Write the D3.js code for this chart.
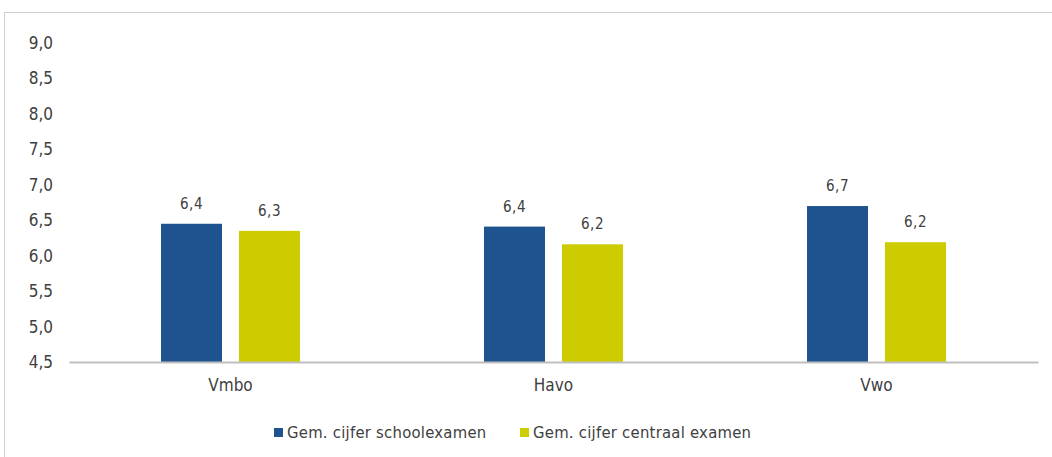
<!DOCTYPE html>
<html><head><meta charset="utf-8">
<script src="https://cdn.jsdelivr.net/npm/d3@7"></script>
<style>body{margin:0;background:#fff;} svg{display:block;}</style>
</head><body>
<svg id="c" width="1052" height="457"></svg>
<script>
const categories = ["Vmbo", "Havo", "Vwo"];
const seriesNames = ["Gem. cijfer schoolexamen", "Gem. cijfer centraal examen"];
const schoolexamen = [6.45, 6.41, 6.70];
const centraalExamen = [6.35, 6.16, 6.19];
const schoolLabels = ["6,4", "6,4", "6,7"];
const centraalLabels = ["6,3", "6,2", "6,2"];
const yTicks = [4.5, 5.0, 5.5, 6.0, 6.5, 7.0, 7.5, 8.0, 8.5, 9.0];
const colors = ["#1f538f", "#cccc00"];

const svg = d3.select("#c");
const font = "'DejaVu Sans Condensed', 'DejaVu Sans', sans-serif";
const textColor = "#404040";

// outer frame
svg.append("rect").attr("x", 4.5).attr("y", 12.5).attr("width", 1060).attr("height", 460)
  .attr("fill", "none").attr("stroke", "#d0d0d0").attr("stroke-width", 1);

const x0 = d3.scaleBand().domain(categories).range([69, 1038]);
const x1 = d3.scaleBand().domain([0, 1]).range([0, 139]).paddingInner(0.218);
const y = d3.scaleLinear().domain([4.5, 9.0]).range([362, 43]);

// y axis labels
const yAxis = d3.axisLeft(y).tickValues(yTicks).tickSize(0).tickPadding(0)
  .tickFormat(d => d3.format(".1f")(d).replace(".", ","));
const gy = svg.append("g").attr("transform", "translate(53,0)").call(yAxis);
gy.select(".domain").remove();
gy.selectAll("text").attr("font-family", font).attr("font-size", 17).attr("fill", textColor);

const data = categories.map((c, i) => ({c, vals: [
  {s: 0, v: schoolexamen[i], l: schoolLabels[i]},
  {s: 1, v: centraalExamen[i], l: centraalLabels[i]}]}));

const groups = svg.append("g").selectAll("g").data(data).join("g")
  .attr("transform", d => `translate(${x0(d.c) + x0.bandwidth()/2 - 69.5},0)`);
groups.selectAll("rect").data(d => d.vals).join("rect")
  .attr("x", d => x1(d.s)).attr("width", x1.bandwidth())
  .attr("y", d => y(d.v)).attr("height", d => y(4.5) - y(d.v))
  .attr("fill", d => colors[d.s]);
groups.selectAll("text").data(d => d.vals).join("text")
  .attr("x", d => x1(d.s) + x1.bandwidth()/2).attr("y", d => y(d.v) - 15)
  .attr("text-anchor", "middle").attr("font-family", font).attr("font-size", 15)
  .attr("letter-spacing", 0.5)
  .attr("fill", textColor).text(d => d.l);

// x axis
const xAxis = d3.axisBottom(x0).tickSize(0).tickPadding(17);
const gx = svg.append("g").attr("transform", `translate(0,${y(4.5)})`).call(xAxis);
gx.select(".domain").attr("stroke", "#bfbfbf").attr("stroke-width", 2);
gx.selectAll("text").attr("font-family", font).attr("font-size", 17).attr("fill", textColor);

// legend
const legendX = [274, 520];
const leg = svg.append("g").selectAll("g").data(seriesNames).join("g")
  .attr("transform", (d, i) => `translate(${legendX[i]},428)`);
leg.append("rect").attr("width", 9).attr("height", 9).attr("fill", (d, i) => colors[i]);
leg.append("text").attr("x", 13).attr("y", 10).attr("font-family", font).attr("font-size", 16.5)
  .attr("letter-spacing", 0.25)
  .attr("fill", textColor).text(d => d);
</script>
</body></html>
